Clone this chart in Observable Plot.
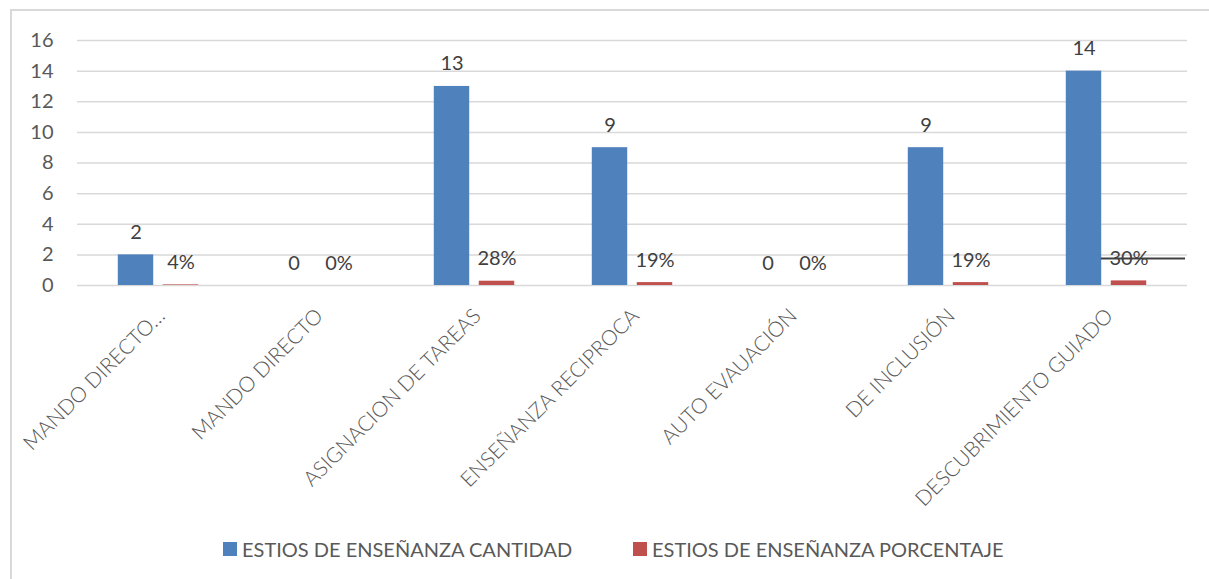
<!DOCTYPE html>
<html>
<head>
<meta charset="utf-8">
<script src="https://cdn.jsdelivr.net/npm/d3@7"></script>
<script src="https://cdn.jsdelivr.net/npm/@observablehq/plot@0.6"></script>
<style>
  html, body { margin: 0; padding: 0; background: #fff; overflow: hidden; }
  body { width: 1209px; height: 579px; position: relative; font-family: Lato, "Open Sans", sans-serif; }
  #frame { position: absolute; left: 10px; top: 9px; width: 1300px; height: 700px; border: 2px solid #d9d9d9; box-sizing: border-box; }
  #chart { position: absolute; left: 0; top: 0; }
  #legend { position: absolute; left: 0; top: 520px; width: 1209px; height: 59px; }
  .item { position: absolute; top: 17px; display: flex; align-items: center; font-size: 20px; line-height: 24px; color: #595959; white-space: nowrap; }
  .sw { width: 14px; height: 14px; margin-right: 5px; }
</style>
</head>
<body>
<div id="frame"></div>
<div id="chart"></div>
<div id="legend"></div>
<script>
const categories = ["MANDO DIRECTO…", "MANDO DIRECTO", "ASIGNACION DE TAREAS", "ENSEÑANZA RECIPROCA", "AUTO EVAUACIÓN", "DE INCLUSIÓN", "DESCUBRIMIENTO GUIADO"];
const cantidad = [2, 0, 13, 9, 0, 9, 14];
const porcentaje = [0.04, 0, 0.28, 0.19, 0, 0.19, 0.30];
const yTicks = [0, 2, 4, 6, 8, 10, 12, 14, 16];
const seriesNames = ["ESTIOS DE ENSEÑANZA CANTIDAD", "ESTIOS DE ENSEÑANZA PORCENTAJE"];
const seriesColors = ["#4f81bd", "#c0504d"];
const markerLine = [{category: "DESCUBRIMIENTO GUIADO", value: 1.76}];

const dataC = categories.map((c, i) => ({category: c, value: cantidad[i]}));
const dataP = categories.map((c, i) => ({category: c, value: porcentaje[i]}));

const band = (1209 - 77 - 22) / categories.length;
const barW = 36, gap = 9;
const outer = (band - 2 * barW - gap) / 2;

const plot = Plot.plot({
  width: 1209,
  height: 520,
  marginLeft: 77,
  marginRight: 22,
  marginTop: 40,
  marginBottom: 235,
  style: {fontFamily: "Lato, 'Open Sans', sans-serif", background: "transparent", overflow: "visible"},
  x: {type: "band", domain: categories, padding: 0, label: null},
  y: {domain: [0, 16], label: null},
  marks: [
    Plot.ruleY(yTicks, {stroke: "#d9d9d9", strokeWidth: 1.5}),
    Plot.barY(dataC, {x: "category", y: "value", fill: seriesColors[0], insetLeft: outer, insetRight: band - outer - barW}),
    Plot.barY(dataP, {x: "category", y: "value", fill: seriesColors[1], insetLeft: outer + barW + gap, insetRight: outer}),
    Plot.tickY(markerLine, {x: "category", y: "value", stroke: "#404040", strokeWidth: 2, insetLeft: outer + barW - 1}),
    Plot.text(dataC, {x: "category", y: "value", text: d => String(d.value), dx: -(barW + gap) / 2, dy: -16, lineAnchor: "bottom", fontSize: 20, fill: "#404040"}),
    Plot.text(dataP, {x: "category", y: "value", text: d => Math.round(d.value * 100) + "%", dx: (barW + gap) / 2, dy: -16, lineAnchor: "bottom", fontSize: 20, fill: "#404040"}),
    Plot.axisY({ticks: yTicks, tickSize: 0, tickPadding: 24, fontSize: 20, color: "#595959", label: null}),
    Plot.axisX({tickSize: 0, tickRotate: -45, tickPadding: 27, dx: 3, fontSize: 21, fontWeight: 300, fill: "#595959", label: null})
  ]
});
document.getElementById("chart").appendChild(plot);

const legend = document.getElementById("legend");
const lefts = [223, 633];
seriesNames.forEach((name, i) => {
  const it = document.createElement("div");
  it.className = "item";
  it.style.left = lefts[i] + "px";
  const sw = document.createElement("div");
  sw.className = "sw";
  sw.style.background = seriesColors[i];
  const tx = document.createElement("span");
  tx.textContent = name;
  it.appendChild(sw);
  it.appendChild(tx);
  legend.appendChild(it);
});
</script>
</body>
</html>
